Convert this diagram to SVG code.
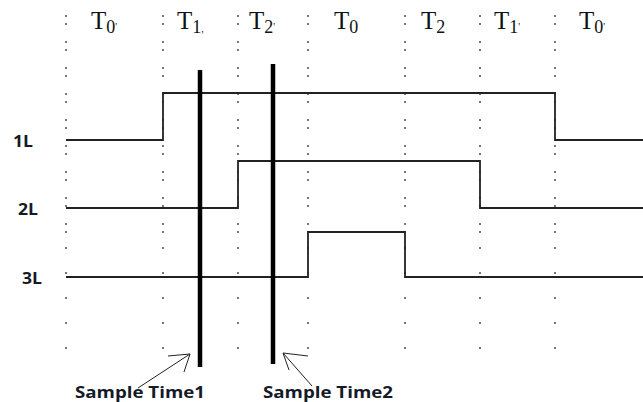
<svg xmlns="http://www.w3.org/2000/svg" width="643" height="402" viewBox="0 0 643 402">
<defs>
<style>
.grid{stroke:#555;stroke-width:1.6;fill:none}
.gu{stroke-dasharray:2 6 2 16}
.gl{stroke-dasharray:2 23}
.sig{stroke:#222;stroke-width:1.8;fill:none}
.samp{stroke:#000;stroke-width:4.5}
.arr{stroke:#222;stroke-width:1;fill:none}
.tl{font-family:"Liberation Serif","Times New Roman",serif;font-size:25px;fill:#111}
.sub{font-size:18px}
.tick{font-size:10px}
.lv{font-family:"Open Sans","Liberation Sans",sans-serif;font-weight:bold;font-size:16px;fill:#141a28}
.cap{font-family:"Open Sans","Liberation Sans",sans-serif;font-weight:bold;font-size:16.5px;fill:#141a28}
</style>
</defs>
<rect width="643" height="402" fill="#fff"/>
<g id="grid">
<path class="grid gu" d="M66 15V241M163 15V241M238 15V241M308 15V241M405 15V241M480 15V241M555 15V241"/>
<path class="grid gl" d="M66 247V355M163 247V355M238 247V355M308 247V355M405 247V355M480 247V355M555 247V355"/>
</g>
<g id="labels">
<text class="tl" x="91" y="29">T<tspan class="sub" dy="4">0</tspan><tspan class="tick" dy="-3">'</tspan></text>
<text class="tl" x="177" y="29">T<tspan class="sub" dy="4">1</tspan><tspan class="tick" dy="-1">,</tspan></text>
<text class="tl" x="249" y="29">T<tspan class="sub" dy="4">2</tspan><tspan class="tick" dy="-3">'</tspan></text>
<text class="tl" x="334" y="29">T<tspan class="sub" dy="4">0</tspan></text>
<text class="tl" x="421" y="29">T<tspan class="sub" dy="4">2</tspan></text>
<text class="tl" x="494" y="29">T<tspan class="sub" dy="4">1</tspan><tspan class="tick" dy="-3">'</tspan></text>
<text class="tl" x="579" y="29">T<tspan class="sub" dy="4">0</tspan><tspan class="tick" dy="-3">'</tspan></text>
</g>
<g id="sig1L">
<text class="lv" x="13" y="147" textLength="20" lengthAdjust="spacingAndGlyphs">1L</text>
<path class="sig" d="M66 140H163V93H555V140H643"/>
</g>
<g id="sig2L">
<text class="lv" x="18" y="215" textLength="20" lengthAdjust="spacingAndGlyphs">2L</text>
<path class="sig" d="M66 208H238V161H480V208H643"/>
</g>
<g id="sig3L">
<text class="lv" x="22" y="284" textLength="20" lengthAdjust="spacingAndGlyphs">3L</text>
<path class="sig" d="M66 277H308V232H405V277H643"/>
</g>
<g id="sample1">
<line class="samp" x1="200" y1="70" x2="200" y2="367"/>
<text class="cap" x="75" y="398" textLength="130" lengthAdjust="spacingAndGlyphs">Sample Time1</text>
</g>
<g id="sample2">
<line class="samp" x1="273" y1="64" x2="273" y2="364"/>
<text class="cap" x="263" y="398" textLength="130" lengthAdjust="spacingAndGlyphs">Sample Time2</text>
</g>
<g id="connectors">
<path class="arr" d="M138 388L190 354M168 356L190 354L184 372"/>
<path class="arr" d="M312 386L283 353M308 356L283 353L289 370"/>
</g>
</svg>
